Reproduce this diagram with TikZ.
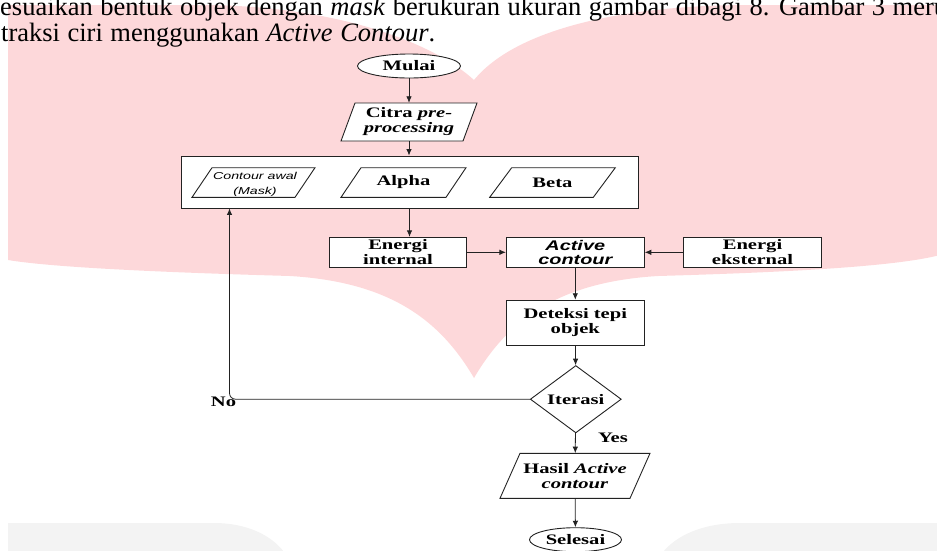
\documentclass[tikz,border=0pt]{standalone}
\usepackage{fontspec}
\setmainfont{Liberation Serif}
\newfontfamily\dserif{Liberation Serif}[FakeStretch=1.42]
\newfontfamily\dsans{Liberation Sans}[FakeStretch=1.42]
\usetikzlibrary{shapes.geometric,arrows.meta}
\definecolor{wpink}{HTML}{FDD8DA}
\definecolor{wgray}{HTML}{F3F3F3}
\definecolor{lc}{HTML}{222222}
\newcommand\mypara[5]{\filldraw[pline,shift={(#1,#2)}] (-#3/2+#5,-#4/2) -- (#3/2,-#4/2) -- (#3/2-#5,#4/2) -- (-#3/2,#4/2) -- cycle;}
\newcommand\widesp{\spaceskip=7.5pt plus 1pt minus 1pt\relax}
\begin{document}
\begin{tikzpicture}[x=1pt,y=-1pt,
  pline/.style={draw=lc,line width=0.9pt,fill=white},
  dfont/.style={font=\dserif\bfseries\fontsize{14.5}{15}\selectfont},
  boxnode/.style={draw=lc,line width=0.9pt,fill=white,rectangle,inner sep=0pt,align=center,dfont},
  txt/.style={inner sep=0pt,align=center,dfont},
  term/.style={ellipse,draw=lc,line width=0.9pt,fill=white,inner sep=0pt,minimum width=103pt,minimum height=24pt,dfont},
  decis/.style={diamond,draw=lc,line width=0.9pt,fill=white,inner sep=0pt,minimum width=91pt,minimum height=44pt,dfont},
  arr/.style={draw=lc,line width=0.8pt,-{Latex[length=6.5pt,width=5.5pt]}},
  para/.style={inner sep=0pt,anchor=base west,font=\fontsize{26.5}{26.5}\selectfont}
]
\useasboundingbox (0,0) rectangle (937,550);
% watermark
\fill[wpink] (8,5) -- (200,5) .. controls (330,5) and (430,40) .. (474,80) -- (474,378) .. controls (440,320) and (390,282) .. (290,276) .. controls (150,272) and (50,267) .. (8,260) -- cycle;
\fill[wpink] (474,80) .. controls (515,30) and (620,5) .. (750,5) -- (940,5) -- (940,255) .. controls (898,266) and (798,272) .. (658,276) .. controls (558,282) and (508,320) .. (474,378) -- cycle;
\fill[wgray] (8,523) -- (214,523) .. controls (248,523) and (272,536) .. (284,552) -- (8,552) -- cycle;
\fill[wgray] (663,552) .. controls (676,536) and (702,523) .. (740,523) -- (940,523) -- (940,552) -- cycle;
% paragraph text
\node[para] (p1) at (0,15) {\widesp esuaikan bentuk objek dengan \textit{mask} berukuran ukuran gambar dibagi 8. Gambar 3 meru};
\node[para] (p2) at (1,41.5) {\widesp traksi ciri menggunakan \textit{Active Contour}.};
% flowchart
\node[term] (mulai) at (409,66) {Mulai};
\mypara{409}{122}{136}{38}{14}
\node[txt,minimum width=136pt,minimum height=38pt] (citra) at (409,122) {Citra \textit{pre-}\\\textit{processing}};
\node[boxnode,minimum width=457pt,minimum height=52pt] (big) at (409.5,182) {};
\mypara{253.5}{182.5}{123}{29.6}{20}
\node[inner sep=0pt,minimum width=123pt,minimum height=29.6pt] (contour) at (253.5,182.5) {};
\node[inner sep=0pt,align=center,font=\dsans\itshape\fontsize{10}{15}\selectfont] (contourtxt) at (255,184.5) {Contour awal\\(Mask)};
\mypara{403.5}{182.5}{125}{29.6}{20}
\node[txt,minimum width=125pt,minimum height=29.6pt] (alpha) at (403.5,182.5) {Alpha};
\mypara{552.5}{182.5}{125.6}{29.6}{22}
\node[txt,minimum width=125.6pt,minimum height=29.6pt] (beta) at (552.5,182.5) {Beta};
\node[boxnode,minimum width=137.4pt,minimum height=30pt] (intern) at (398,252.3) {Energi\\internal};
\node[boxnode,minimum width=138pt,minimum height=30pt,font=\dsans\bfseries\itshape\fontsize{14}{14.6}\selectfont] (active) at (575.3,252.3) {Active\\contour};
\node[boxnode,minimum width=137.6pt,minimum height=30pt] (ekst) at (752.5,252.3) {Energi\\eksternal};
\node[boxnode,minimum width=138pt,minimum height=45pt] (det) at (575.3,322.7) {Deteksi tepi\\objek};
\node[decis] (iter) at (575.8,399.2) {Iterasi};
\mypara{575}{475.8}{150}{45}{20}
\node[txt,minimum width=150pt,minimum height=45pt] (hasil) at (575,475.8) {Hasil \textit{Active}\\\textit{contour}};
\node[term,minimum width=92pt,minimum height=24pt] (sel) at (575.5,539.7) {Selesai};
\node[txt] (yes) at (613,438) {Yes};
\node[txt] (no) at (223.5,402) {No};
\coordinate (nocorner) at (229.5,399.2);
% connectors
\draw[arr] (mulai) -- (citra);
\draw[arr] (citra.south) -- (citra.south |- big.north);
\draw[arr] (big.south) -- (big.south |- intern.north);
\draw[arr] (intern) -- (active);
\draw[arr] (ekst) -- (active);
\draw[arr] (active) -- (det);
\draw[arr] (det) -- (iter);
\draw[arr] (iter) -- (hasil);
\draw[arr] (hasil) -- (sel);
\draw[arr,rounded corners=6pt] (iter.west) -- (nocorner) -- (nocorner |- big.south);
\end{tikzpicture}
\end{document}
